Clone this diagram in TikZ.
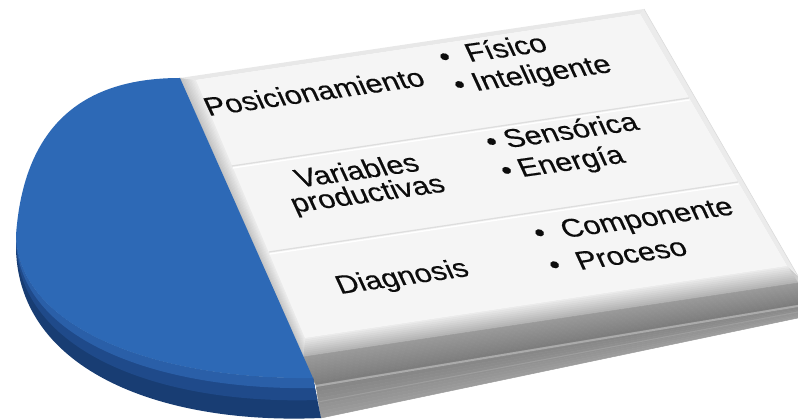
\documentclass[tikz,border=0pt]{standalone}
\usepackage{fontspec}
\setmainfont{Liberation Sans}
\newfontfamily\lblfont{Liberation Sans}[BoldFont=Liberation Sans, BoldFeatures={FakeBold=0.35}]
\usetikzlibrary{calc}
\definecolor{discface}{HTML}{2D69B6}
\definecolor{discrim}{HTML}{2A5FA8}
\definecolor{discmid}{HTML}{1F4A8A}
\definecolor{discdark}{HTML}{183D73}
\definecolor{tileface}{HTML}{F5F5F5}
\definecolor{inktext}{HTML}{0C0C0C}
\newcommand\itembullet[1]{\llap{\textbullet\hspace{#1pt}}}
\begin{document}
\begin{tikzpicture}[x=1pt,y=-1pt,
  lbl/.style={font=\lblfont\bfseries\fontsize{30}{27.5}\selectfont, inner sep=0pt, outer sep=0pt,
              text=inktext, rotate=8, xslant=-0.3, yscale=0.88},
  item/.style={lbl, anchor=base west},
  sep/.style={draw=black!13, line width=1.3pt},
  sephi/.style={draw=white, line width=1.3pt}]
\useasboundingbox (0,0) rectangle (798,419);

% ---------- slab: bevels and stacked side plates ----------
% bottom bevel of the top plate
\fill[black!20] (305,338) -- (787,266) -- (798,276) -- (798,283) -- (303,357) -- cycle;
\foreach \i in {0,...,9}{
  \pgfmathsetmacro\ta{\i/10}\pgfmathsetmacro\tb{(\i+1)/10}
  \pgfmathsetmacro\tone{8+2.4*\i}
  \filldraw[black!\tone, line width=0.5pt]
    ($(305,338)!\ta!(303,357)$) -- ($(787,266)!\ta!(798,283)$) --
    ($(787,266)!\tb!(798,283)$) -- ($(305,338)!\tb!(303,357)$) -- cycle;
}
% first side plate
\foreach \i in {0,...,9}{
  \pgfmathsetmacro\ta{\i/10}\pgfmathsetmacro\tb{(\i+1)/10}
  \pgfmathsetmacro\tone{40+1.2*\i}
  \filldraw[black!\tone, line width=0.5pt]
    ($(303,357)!\ta!(316,385)$) -- ($(798,283)!\ta!(798,305)$) --
    ($(798,283)!\tb!(798,305)$) -- ($(303,357)!\tb!(316,385)$) -- cycle;
}
% second side plate
\foreach \i in {0,...,9}{
  \pgfmathsetmacro\ta{\i/10}\pgfmathsetmacro\tb{(\i+1)/10}
  \pgfmathsetmacro\tone{48-1.0*\i}
  \filldraw[black!\tone, line width=0.5pt]
    ($(316,385)!\ta!(321,418)$) -- ($(798,305)!\ta!(798,318)$) --
    ($(798,305)!\tb!(798,318)$) -- ($(316,385)!\tb!(321,418)$) -- cycle;
}
% light steps between the plates
\draw[black!33, line width=2pt] (316,386) -- (798,306);
\draw[black!38, line width=1pt] (318,402) -- (798,312);

% left bevel (towards the disc)
\foreach \i in {0,...,9}{
  \pgfmathsetmacro\ta{\i/10}\pgfmathsetmacro\tb{(\i+1)/10}
  \pgfmathsetmacro\tone{24-1.8*\i}
  \filldraw[black!\tone, line width=0.4pt]
    ($(180,78)!\ta!(196,80)$) -- ($(303,357)!\ta!(305,338)$) --
    ($(303,357)!\tb!(305,338)$) -- ($(180,78)!\tb!(196,80)$) -- cycle;
}
% top and right bevels
\fill[black!9] (180,78) -- (644,9) -- (640,14) -- (196,80) -- cycle;
\fill[black!8] (640,14) -- (644,9) -- (798,276) -- (787,266) -- cycle;
\draw[black!14, line width=0.6pt] (644,9) -- (798,276);

% top face with three rows
\fill[tileface] (196,80) -- (640,14) -- (787,266) -- (305,338) -- cycle;
\coordinate (r1l) at (232,166); \coordinate (r1r) at (689,98);
\coordinate (r2l) at (269,252); \coordinate (r2r) at (738,182);
\draw[sep] (r1l) -- (r1r);
\draw[sephi] ($(r1l)+(0.6,2)$) -- ($(r1r)+(0.6,2)$);
\draw[sep] (r2l) -- (r2r);
\draw[sephi] ($(r2l)+(0.6,2)$) -- ($(r2r)+(0.6,2)$);

% ---------- blue half disc ----------
% rim (thickness), darkest at the bottom
\fill[discdark] (16,235) .. controls (18,330) and (160,380) .. (313,378)
  -- (321,418) .. controls (160,425) and (20,370) .. (16,250) -- cycle;
\fill[discmid] (16,235) .. controls (18,330) and (160,380) .. (313,378)
  -- (317.4,400) .. controls (160,405) and (19,352) .. (16,243.2) -- cycle;
\fill[discrim] (16,235) .. controls (18,330) and (160,380) .. (313,378)
  -- (315,388) .. controls (160,391) and (18.5,340) .. (16,238.8) -- cycle;
% top face
\fill[discface] (180,78) .. controls (100,78) and (25,110) .. (16,235)
  .. controls (18,330) and (160,380) .. (313,378) -- cycle;

% ---------- labels ----------
\node[item] (pos) at (209,116) {Posicionamiento};
\node[item] (fis) at (470,62) {\itembullet{16.5}Físico};
\node[item] (int) at (476.5,91) {\itembullet{8}Inteligente};
\node[lbl, align=center] (var) at (363,184) {Variables\\productivas};
\node[item] (sen) at (508.5,148) {\itembullet{8}Sensórica};
\node[item] (ene) at (522.5,177) {\itembullet{7}Energía};
\node[item] (dia) at (340.5,294) {Diagnosis};
\node[item] (com) at (565.5,238) {\itembullet{17}Componente};
\node[item] (pro) at (580.5,270) {\itembullet{17}Proceso};
\end{tikzpicture}
\end{document}
